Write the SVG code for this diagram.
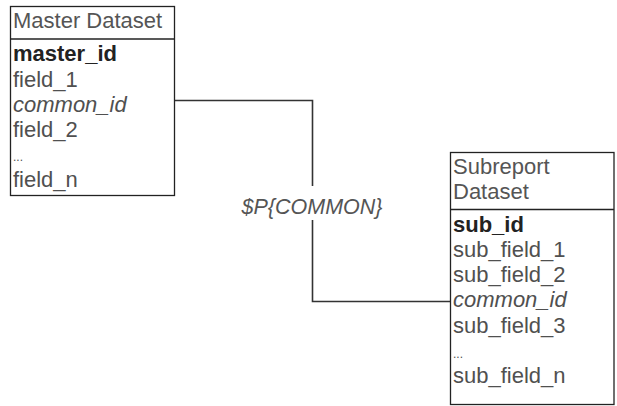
<svg xmlns="http://www.w3.org/2000/svg" width="617" height="406" viewBox="0 0 617 406">
<style>
.box{fill:#fff;stroke:#222;stroke-width:1.3}
.div{stroke:#222;stroke-width:1.3}
.t{font-family:"Liberation Sans",Arial,sans-serif;font-size:22px;fill:#505050}
.h{fill:#555}
.b{font-weight:bold;fill:#222}
.i{font-style:italic}
.conn{fill:none;stroke:#333;stroke-width:1.6}
.lbl{font-family:"Liberation Sans",Arial,sans-serif;font-size:21.5px;font-style:italic;fill:#555}
</style>
<rect width="617" height="406" fill="#fff"/>
<g id="connectors">
<path class="conn" d="M175,100.5 H312.5 V186"/>
<path class="conn" d="M312.5,220 V301.5 H450"/>
<text class="lbl" x="312" y="214" text-anchor="middle">$P{COMMON}</text>
</g>
<g id="master">
<rect class="box" x="10.5" y="6.5" width="164" height="189"/>
<line class="div" x1="10.5" y1="39" x2="174.5" y2="39"/>
<text class="t h" x="13" y="28">Master Dataset</text>
<text class="t b" x="13" y="61">master_id</text>
<text class="t" x="13" y="86.5">field_1</text>
<text class="t i" x="13" y="111.5">common_id</text>
<text class="t" x="13" y="136.5">field_2</text>
<text class="t" x="13" y="161" style="font-size:12px">...</text>
<text class="t" x="13" y="187">field_n</text>
</g>
<g id="subreport">
<rect class="box" x="450.5" y="152.5" width="163.5" height="252"/>
<line class="div" x1="450.5" y1="209.5" x2="614" y2="209.5"/>
<text class="t h" x="453" y="174">Subreport</text>
<text class="t h" x="453" y="199">Dataset</text>
<text class="t b" x="453" y="232">sub_id</text>
<text class="t" x="453" y="257">sub_field_1</text>
<text class="t" x="453" y="282">sub_field_2</text>
<text class="t i" x="453" y="307">common_id</text>
<text class="t" x="453" y="332.5">sub_field_3</text>
<text class="t" x="453" y="358" style="font-size:12px">...</text>
<text class="t" x="453" y="383">sub_field_n</text>
</g>
</svg>
